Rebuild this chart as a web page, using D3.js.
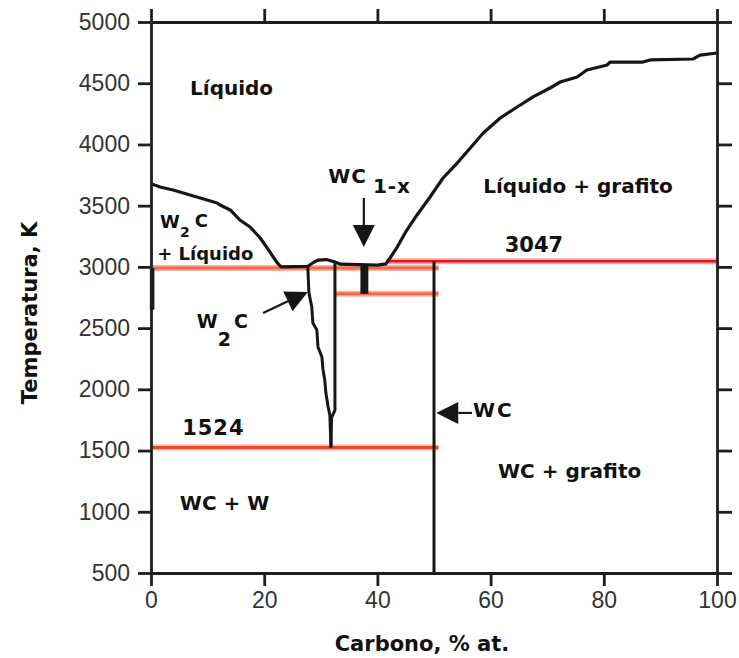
<!DOCTYPE html>
<html>
<head>
<meta charset="utf-8">
<script src="https://cdn.jsdelivr.net/npm/d3@7"></script>
<style>
  body { margin: 0; background: #fff; }
  .tick text { font-family: "Liberation Sans", Arial, sans-serif; font-size: 23px; fill: #333; }
  .lbl { font-family: "DejaVu Sans", sans-serif; font-weight: bold; fill: #111; }
</style>
</head>
<body>
<div id="chart"></div>
<script>
// ---- data ----
var xTicks = [0, 20, 40, 60, 80, 100];
var yTicks = [500, 1000, 1500, 2000, 2500, 3000, 3500, 4000, 4500, 5000];

// liquidus, [carbon %, T in K]
var liquidus = [
  [0, 3680], [1.6, 3652], [3.9, 3628], [5.1, 3612], [6.9, 3587], [8.7, 3563],
  [9.9, 3546], [11.7, 3522], [12.2, 3505], [14.0, 3465], [15.7, 3383],
  [17.5, 3326], [19.3, 3236], [21.0, 3122], [22.3, 3032], [23.0, 3000],
  [27.7, 3005], [28.5, 3030], [29.5, 3055], [31.0, 3060], [32.5, 3040],
  [33.5, 3022], [40.0, 3015], [41.5, 3025], [42.2, 3070], [43.5, 3162],
  [45.2, 3301], [47.0, 3424], [49.3, 3571], [51.6, 3726], [54.1, 3848],
  [55.8, 3938], [58.7, 4093], [61.7, 4216], [64.7, 4306], [67.5, 4388],
  [70.5, 4461], [72.3, 4510], [75.3, 4551], [77.0, 4608], [80.6, 4649],
  [81.1, 4673], [86.9, 4673], [88.2, 4690], [95.8, 4698], [97.0, 4730],
  [100, 4747]
];

// W2C solvus (left, jagged) and right boundary
var w2cLeft = [
  [27.7, 3000], [27.9, 2788], [28.4, 2673], [28.6, 2542], [29.3, 2485],
  [29.5, 2346], [30.2, 2264], [30.4, 2158], [30.7, 2077], [30.9, 1970],
  [31.3, 1856], [31.6, 1790], [31.8, 1524]
];
var w2cRight = [[32.5, 3040], [32.5, 1830], [31.9, 1770], [31.8, 1524]];

// WC(1-x) narrow field
var wc1x = [[37.0, 2780], [38.4, 2780], [38.4, 3015], [37.0, 3015]];

// WC line and W solubility edge
var wcLine = [[50, 3047], [50, 500]];
var wEdge = [[0.2, 2990], [0.2, 2650]];

// isotherms
var isoT = [2990, 2780, 1524, 3047];
var isoFrom = [0, 32.4, 0, 41.5];
var isoTo = [50.8, 50.8, 50.8, 100];

// annotation arrows, [from, to]
var arrows = [
  [[37.6, 3563], [37.6, 3162]],
  [[19.8, 2623], [27.7, 2795]],
  [[56.7, 1807], [50.4, 1807]]
];

// ---- chart ----
var svgWidth = 739;
var svgHeight = 658;

var svg = d3.select("#chart")
  .append("svg")
  .attr("width", svgWidth)
  .attr("height", svgHeight)
  .style("background", "#fff");

var x = d3.scaleLinear().domain([0, 100]).range([151, 717]);
var y = d3.scaleLinear().domain([500, 5000]).range([573, 22]);

var line = d3.line().x(d => x(d[0])).y(d => y(d[1]));

// isotherms: light halo first, then the strong line
var isoColor = ["#f26a50", "#f26a50", "#f0462e", "#e3161f"];
var isoHalo = ["#fbb5a4", "#fbb5a4", "#fbb5a4", "#f7a9a9"];

svg.append("g").selectAll("line")
  .data(isoT)
  .enter()
  .append("line")
  .attr("x1", (d, i) => x(isoFrom[i]))
  .attr("x2", (d, i) => x(isoTo[i]))
  .attr("y1", d => y(d))
  .attr("y2", d => y(d))
  .attr("stroke", (d, i) => isoHalo[i])
  .attr("stroke-width", 6);

svg.append("g").selectAll("line")
  .data(isoT)
  .enter()
  .append("line")
  .attr("x1", (d, i) => x(isoFrom[i]))
  .attr("x2", (d, i) => x(isoTo[i]))
  .attr("y1", d => y(d))
  .attr("y2", d => y(d))
  .attr("stroke", (d, i) => isoColor[i])
  .attr("stroke-width", (d, i) => i == 3 ? 2.5 : 3);

// phase boundaries
var ink = "#161616";

svg.append("path").datum(liquidus)
  .attr("d", line)
  .attr("fill", "none")
  .attr("stroke", ink)
  .attr("stroke-width", 3.2)
  .attr("stroke-linejoin", "round");

[w2cLeft, w2cRight, wcLine].forEach(function(pts) {
  svg.append("path").datum(pts)
    .attr("d", line)
    .attr("fill", "none")
    .attr("stroke", ink)
    .attr("stroke-width", 3);
});

svg.append("path").datum(wEdge)
  .attr("d", line)
  .attr("fill", "none")
  .attr("stroke", ink)
  .attr("stroke-width", 4.5);

svg.append("path").datum(wc1x)
  .attr("d", line.curve(d3.curveLinearClosed))
  .attr("fill", ink);
line.curve(d3.curveLinear);

// axes (box with outward ticks)
var fmt = d3.format("d");
var leftAxis = d3.axisLeft(y).tickValues(yTicks).tickFormat(fmt).tickSize(13).tickPadding(8).tickSizeOuter(0);
var bottomAxis = d3.axisBottom(x).tickValues(xTicks).tickFormat(fmt).tickSize(13).tickPadding(6).tickSizeOuter(0);
var topAxis = d3.axisTop(x).tickValues(xTicks).tickSize(13).tickSizeOuter(0).tickFormat("");
var rightAxis = d3.axisRight(y).tickValues(yTicks).tickSize(15).tickSizeOuter(0).tickFormat("");

function styleAxis(g) {
  g.selectAll("path, line").attr("stroke", "#1e1e1e").attr("stroke-width", 2.8);
}

svg.append("g").attr("transform", `translate(${x(0)},0)`).call(leftAxis).call(styleAxis);
svg.append("g").attr("transform", `translate(0,${y(500)})`).call(bottomAxis).call(styleAxis);
svg.append("g").attr("transform", `translate(0,${y(5000)})`).call(topAxis).call(styleAxis);
svg.append("g").attr("transform", `translate(${x(100)},0)`).call(rightAxis).call(styleAxis);

svg.selectAll(".tick text").attr("font-family", null).attr("font-size", null);

// axis titles
svg.append("text")
  .attr("class", "lbl")
  .attr("x", 422)
  .attr("y", 651)
  .attr("text-anchor", "middle")
  .style("font-size", "21px")
  .text("Carbono, % at.");

svg.append("text")
  .attr("class", "lbl")
  .attr("transform", "translate(37, 313) rotate(-90)")
  .attr("text-anchor", "middle")
  .style("font-size", "21px")
  .text("Temperatura, K");

// arrows
arrows.forEach(function(a) {
  var x0 = x(a[0][0]), y0 = y(a[0][1]), x1 = x(a[1][0]), y1 = y(a[1][1]);
  var len = Math.hypot(x1 - x0, y1 - y0);
  var ux = (x1 - x0) / len, uy = (y1 - y0) / len;
  var hl = 22, hw = 11;
  var bx = x1 - ux * hl, by = y1 - uy * hl;
  svg.append("line")
    .attr("x1", x0).attr("y1", y0).attr("x2", bx).attr("y2", by)
    .attr("stroke", ink).attr("stroke-width", 2.2);
  svg.append("path")
    .attr("d", `M${x1},${y1}L${bx - uy * hw},${by + ux * hw}L${bx + uy * hw},${by - ux * hw}Z`)
    .attr("fill", ink);
});

// field labels
function label(xv, tv, size, txt) {
  return svg.append("text")
    .attr("class", "lbl")
    .attr("x", x(xv))
    .attr("y", y(tv))
    .style("font-size", size + "px")
    .text(txt);
}

label(6.9, 4400, 20, "Líquido");
label(58.7, 3603, 20, "Líquido + grafito");
label(1.1, 3056, 18, "+ Líquido");
label(5.5, 1627, 21, "1524").attr("letter-spacing", 1);
label(62.5, 3122, 21, "3047");
label(5.1, 1015, 20, "WC + W");
label(56.9, 1774, 20, "WC").attr("letter-spacing", 2);
label(61.3, 1276, 20, "WC + grafito");

var wcx = label(31.3, 3685, 20, "WC").attr("letter-spacing", 1);
wcx.append("tspan").attr("dx", 6).attr("dy", 10).text("1-x");

var w2a = label(1.6, 3318, 18, "W");
w2a.append("tspan").attr("dy", 9).style("font-size", "14px").text("2");
w2a.append("tspan").attr("dx", 5).attr("dy", -10).text("C");

var w2b = label(8.1, 2501, 19, "W");
w2b.append("tspan").attr("dy", 18).text("2");
w2b.append("tspan").attr("dx", 3).attr("dy", -18).text("C");
</script>
</body>
</html>
